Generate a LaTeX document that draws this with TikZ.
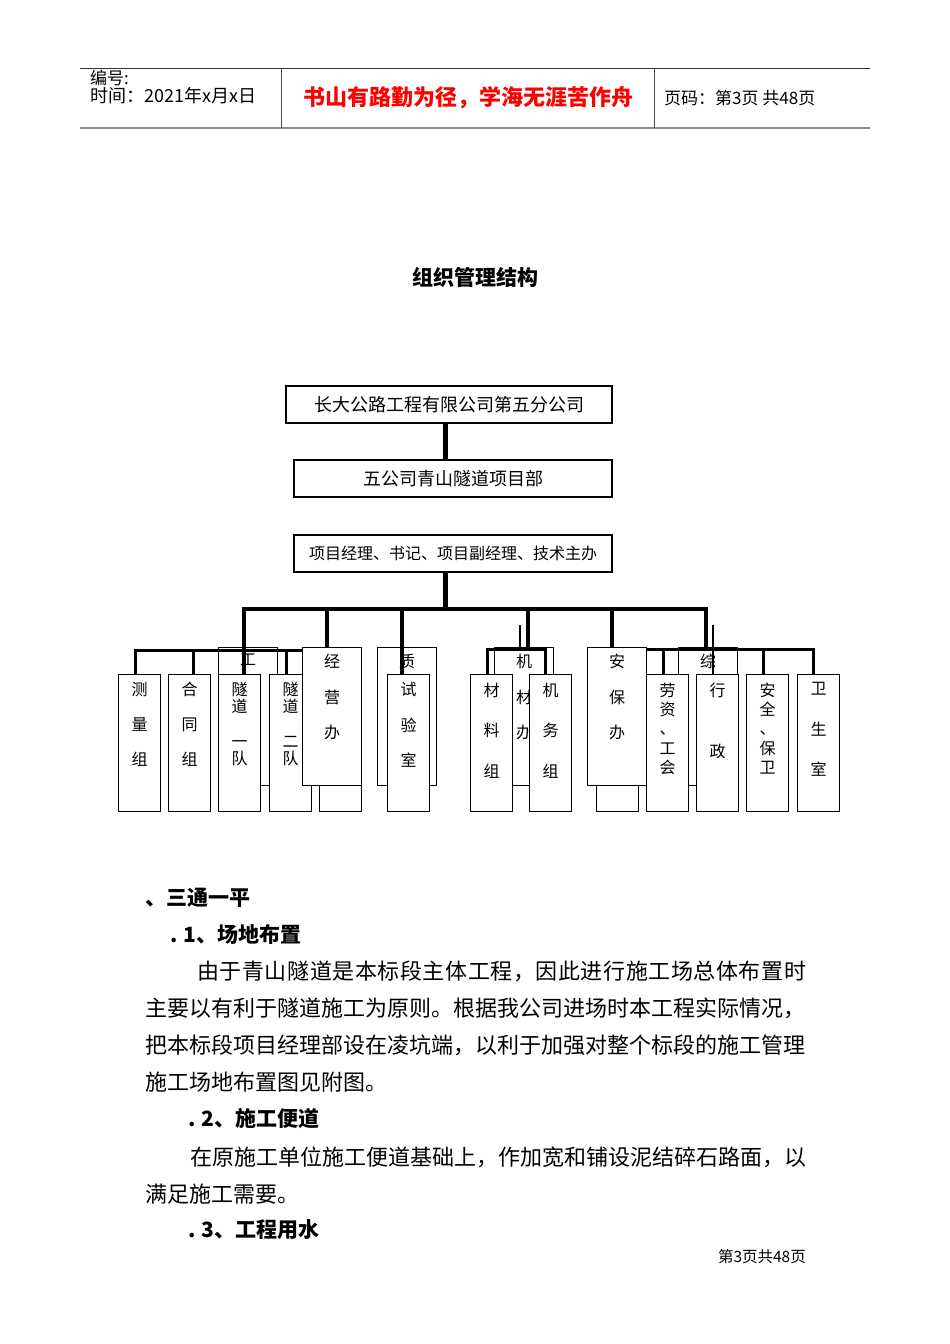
\documentclass[tikz,border=0pt]{standalone}
\usepackage{fontspec}
\setmainfont{Noto Sans CJK SC}
\usetikzlibrary{positioning}
\tikzstyle{orgunit}=[draw, fill=white, line width=1.2pt, inner sep=0pt]
\tikzstyle{headbox}=[orgunit, minimum height=37pt, font=\fontsize{18}{18}\selectfont]
\tikzstyle{lowbox}=[orgunit, anchor=north west, minimum width=42pt, minimum height=137pt]
\tikzstyle{highbox}=[orgunit, anchor=north west, minimum width=59pt, minimum height=138pt]
\tikzstyle{trunk}=[line width=5pt]
\tikzstyle{bus}=[line width=4pt]
\tikzstyle{subbus}=[line width=3pt]
\tikzstyle{stub}=[line width=2pt]
\tikzstyle{bodyline}=[anchor=west, inner sep=0pt, font=\fontsize{22}{22}\selectfont]
\tikzstyle{heading}=[anchor=west, inner sep=0pt, font=\bfseries\fontsize{21}{21}\selectfont]
\tikzset{vtext/.style={font=\fontsize{16}{#1}\selectfont, align=center, inner sep=0pt}}
\newcommand{\spread}[1]{\addfontfeature{LetterSpace=#1}}

\begin{document}
\begin{tikzpicture}[x=1pt,y=-1pt]
  \useasboundingbox (0,0) rectangle (950,1344);
  \fill[white] (0,0) rectangle (950,1344);

  % page header
  \draw[line width=1pt, black!80] (80,68) -- (870,68);
  \draw[line width=2pt, black!45] (80,128) -- (870,128);
  \draw[line width=1pt, black!70] (281,68) -- (281,128);
  \draw[line width=1pt, black!70] (654,68) -- (654,128);
  \node[anchor=west, inner sep=0pt, font=\fontsize{17}{17}\selectfont] (hd-no) at (90,78) {编号:};
  \node[anchor=west, inner sep=0pt, font=\fontsize{18}{18}\selectfont] (hd-date) at (90,96) {时间：2021年x月x日};
  \node[inner sep=0pt, text=red, font=\bfseries\fontsize{22}{22}\selectfont] (hd-motto) at (468,98) {书山有路勤为径，学海无涯苦作舟};
  \node[anchor=west, inner sep=0pt, font=\fontsize{17}{17}\selectfont] (hd-page) at (664,98) {页码：第3页 共48页};

  \node[inner sep=0pt, font=\bfseries\fontsize{21}{21}\selectfont] (title) at (475,277) {组织管理结构};

  % upper levels
  \node[headbox, minimum width=326pt] (gs) at (449,404.5) {长大公路工程有限公司第五分公司};
  \node[headbox, minimum width=318pt] (xmb) at (453,478.5) {五公司青山隧道项目部};
  \node[headbox, minimum width=318pt, font=\fontsize{16}{16}\selectfont] (ld) at (453,553.5) {项目经理、书记、项目副经理、技术主办};

  % boxes at the back
  \node[highbox] (gc) at (218,647) {};
  \node[vtext=35, below=7pt of gc.north] (gc-t) {工};
  \node[highbox] (zl) at (377,647) {};
  \node[vtext=35, below=7pt of zl.north] (zl-t) {质};
  \node[highbox] (jc) at (494,647) {};
  \node[vtext=35.5, below=7pt of jc.north] (jc-t) {机\\材\\办};
  \node[highbox] (zh) at (678,647) {};
  \node[vtext=35, below=7pt of zh.north] (zh-t) {综};
  \node[lowbox] (hid1) at (319,674) {};
  \node[lowbox] (hid2) at (596,674) {};

  % connectors
  \coordinate (axis) at (445,0);
  \coordinate (bus-l) at (244,609);
  \coordinate (bus-r) at (706,609);
  \draw[trunk] (gs.south -| axis) -- (xmb.north -| axis);
  \draw[trunk] (ld.south -| axis) -- (axis |- bus-l);
  \draw[bus] (bus-l |- 0,674) -- (bus-l) -- (bus-r) -- (bus-r |- zh.north);
  \coordinate (d-jy) at (327,609);
  \coordinate (d-sy) at (402,609);
  \coordinate (d-jc) at (528,609);
  \coordinate (d-ab) at (612,609);
  \draw[bus] (d-jy) -- (d-jy |- 0,647);
  \draw[bus] (d-sy) -- (d-sy |- 0,674);
  \draw[bus] (d-jc) -- (d-jc |- jc.north);
  \draw[bus] (d-ab) -- (d-ab |- 0,647);

  \coordinate (sb-l) at (135,650);
  \coordinate (sb-ht) at (193,650);
  \coordinate (sb-sd) at (286,650);
  \draw[subbus] (sb-l |- 0,674) -- (sb-l) -- (302,650);
  \draw[subbus] (sb-ht) -- (sb-ht |- 0,674);
  \draw[subbus] (sb-sd) -- (sb-sd |- 0,674);

  \coordinate (sm-l) at (487,649);
  \coordinate (sm-r) at (545,649);
  \coordinate (st-jc) at (520,625);
  \draw[subbus] (sm-l |- 0,674) -- (sm-l) -- (sm-r) -- (sm-r |- 0,674);
  \draw[stub] (st-jc) -- (st-jc |- sm-l);

  \coordinate (sb-r) at (813,649);
  \coordinate (sb-lz) at (663,649);
  \coordinate (sb-aq) at (763,649);
  \coordinate (st-xz) at (713,625);
  \draw[subbus] (645,649) -- (sb-r) -- (sb-r |- 0,674);
  \draw[subbus] (sb-lz) -- (sb-lz |- 0,674);
  \draw[subbus] (sb-aq) -- (sb-aq |- 0,674);
  \draw[stub] (st-xz) -- (st-xz |- 0,674);

  % boxes in front
  \node[lowbox] (clz) at (118,674) {};
  \node[vtext=35, below=8pt of clz.north] (clz-t) {测\\量\\组};
  \node[lowbox] (htz) at (168,674) {};
  \node[vtext=35, below=8pt of htz.north] (htz-t) {合\\同\\组};
  \node[lowbox] (sd1) at (218,674) {};
  \node[vtext=17.3, below=7.5pt of sd1.north] (sd1-t) {隧\\道\\~\\一\\队};
  \node[lowbox] (sd2) at (269,674) {};
  \node[vtext=17.3, below=7.5pt of sd2.north] (sd2-t) {隧\\道\\~\\二\\队};
  \node[lowbox] (sys) at (387,674) {};
  \node[vtext=35.5, below=8pt of sys.north] (sys-t) {试\\验\\室};
  \node[lowbox] (clzu) at (470,674) {};
  \node[vtext=40.5, below=8.5pt of clzu.north] (clzu-t) {材\\料\\组};
  \node[lowbox] (jwz) at (529,674) {};
  \node[vtext=40.5, below=8.5pt of jwz.north] (jwz-t) {机\\务\\组};
  \node[lowbox] (lz) at (646,674) {};
  \node[vtext=19.3, below=8.5pt of lz.north] (lz-t) {劳\\资\\、\\工\\会};
  \node[lowbox] (xz) at (696,674) {};
  \node[vtext=61, below=8.5pt of xz.north] (xz-t) {行\\政};
  \node[lowbox] (aq) at (746,674) {};
  \node[vtext=19.3, below=8.5pt of aq.north] (aq-t) {安\\全\\、\\保\\卫};
  \node[lowbox] (ws) at (797,674) {};
  \node[vtext=40.5, below=8.5pt of ws.north] (ws-t) {卫\\生\\室};
  \node[highbox] (jyb) at (302,647) {};
  \node[vtext=35.5, below=7pt of jyb.north] (jyb-t) {经\\营\\办};
  \node[highbox] (abb) at (587,647) {};
  \node[vtext=35.5, below=7pt of abb.north] (abb-t) {安\\保\\办};

  % text below the chart
  \node[heading] (h1) at (145,898) {、三通一平};
  \node[heading] (h11) at (170,934) {. 1、场地布置};
  \node[bodyline] (p1a) at (197,971) {\spread{2.6}由于青山隧道是本标段主体工程，因此进行施工场总体布置时};
  \node[bodyline] (p1b) at (145,1008) {主要以有利于隧道施工为原则。根据我公司进场时本工程实际情况，};
  \node[bodyline] (p1c) at (145,1045) {把本标段项目经理部设在凌坑端，以利于加强对整个标段的施工管理};
  \node[bodyline] (p1d) at (145,1082) {施工场地布置图见附图。};
  \node[heading] (h12) at (188,1119) {. 2、施工便道};
  \node[bodyline] (p2a) at (190,1157) {在原施工单位施工便道基础上，作加宽和铺设泥结碎石路面，以};
  \node[bodyline] (p2b) at (145,1194) {满足施工需要。};
  \node[heading] (h13) at (188,1230) {. 3、工程用水};
  \node[anchor=east, inner sep=0pt, font=\fontsize{15.5}{15.5}\selectfont] (foot) at (806,1257) {第3页共48页};
\end{tikzpicture}
\end{document}
